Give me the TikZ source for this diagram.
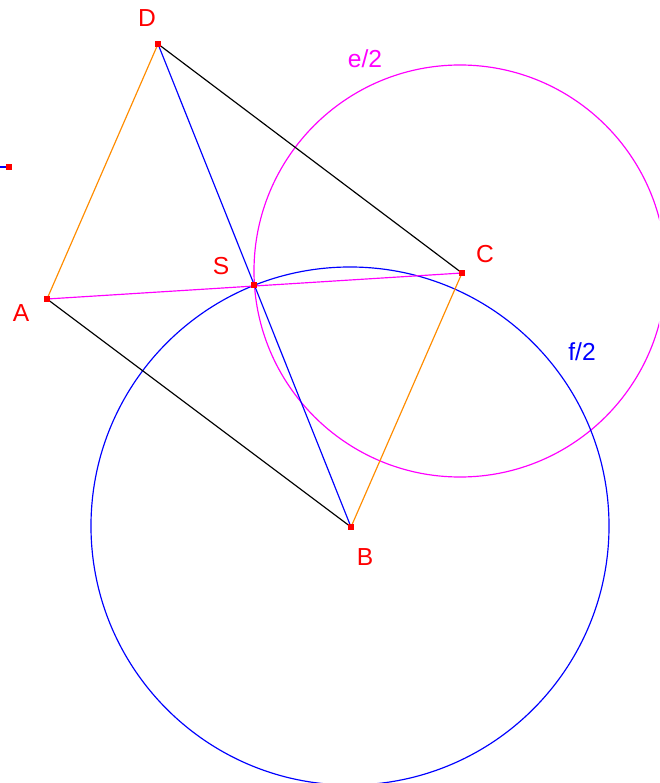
\documentclass[tikz,border=0pt]{standalone}
\usepackage{fontspec}
\setmainfont{Liberation Sans}
\usetikzlibrary{positioning}
\definecolor{orng}{RGB}{255,140,0}
\definecolor{mgnt}{RGB}{255,0,255}
\tikzset{
  pt/.style={rectangle,fill=red,inner sep=0pt,minimum size=4.5pt},
  lbl/.style={inner sep=0pt,font=\fontsize{21}{25}\selectfont}
}

\begin{document}
\begin{tikzpicture}[x=0.03cm,y=-0.03cm,line width=1pt]
\useasboundingbox (0,0) rectangle (659,783);
\clip (0,0) rectangle (659,783);
\coordinate (A) at (47,299);
\coordinate (B) at (351,527);
\coordinate (C) at (462,273);
\coordinate (D) at (158,44);
\coordinate (S) at (254,285);
\coordinate (Q) at (9,167);
\coordinate (Q0) at (-2,167);

% circles
\draw[mgnt] (460,271) circle (6.18cm);
\draw[blue] (350,526) circle (7.77cm);

\draw (D) -- (C);
\draw (A) -- (B);
\draw[orng] (A) -- (D);
\draw[orng] (B) -- (C);
\draw[blue] (D) -- (B);
\draw[mgnt] (A) -- (C);
\draw[blue] (Q0) -- (Q);

\foreach \p in {A,B,C,D,S,Q}
  \node[pt] (m\p) at (\p) {};

\node[lbl,text=red] (lA) at (21,313) {A};
\node[lbl,text=red] (lB) at (365,557) {B};
\node[lbl,text=red] (lC) at (485,254) {C};
\node[lbl,text=red] (lD) at (147,18) {D};
\node[lbl,text=red] (lS) at (221,266) {S};
\node[lbl,text=mgnt] (le) at (365,59) {e/2};
\node[lbl,text=blue] (lf) at (582,352) {f/2};
\end{tikzpicture}
\end{document}
